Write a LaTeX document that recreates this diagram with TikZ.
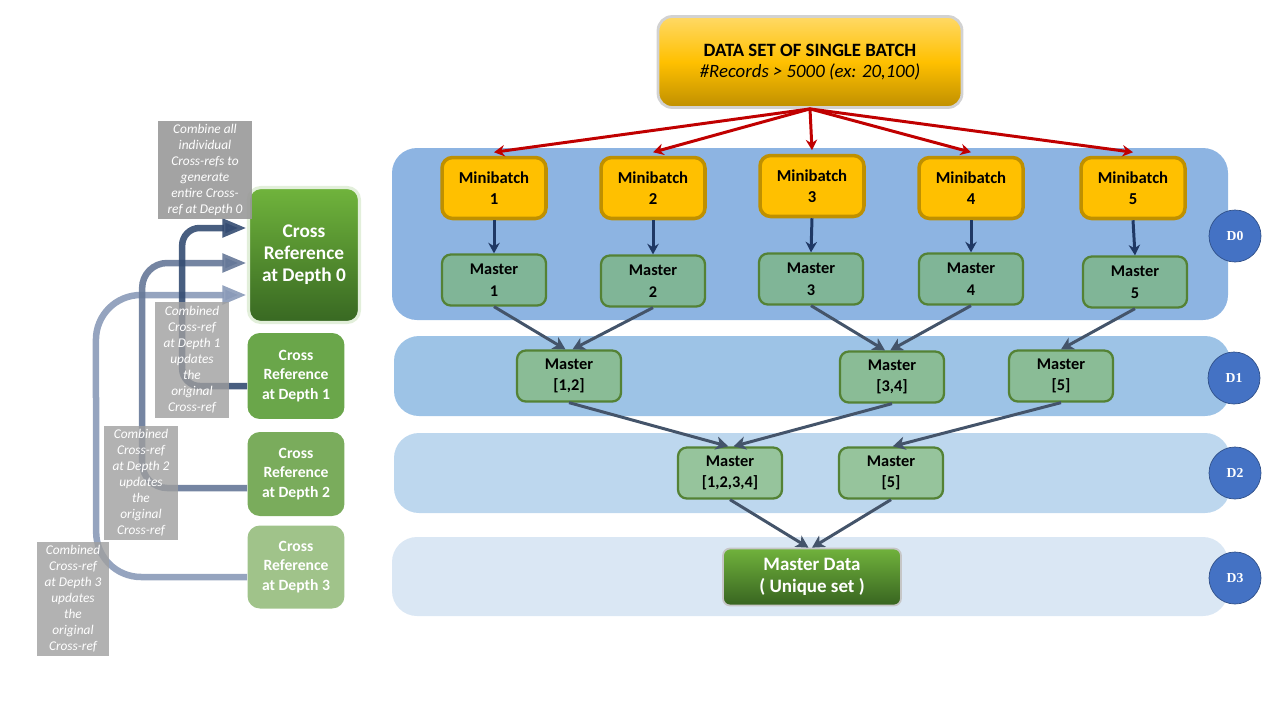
\documentclass[tikz,border=0pt]{standalone}
\usepackage{fontspec}
\setmainfont{Carlito}
\newfontfamily\dfont{Liberation Serif}
\usetikzlibrary{arrows.meta, calc, positioning}
\definecolor{minifill}{RGB}{255,192,0}
\definecolor{minibd}{RGB}{191,144,0}
\definecolor{mastbd}{RGB}{84,130,53}
\definecolor{mast0}{RGB}{128,181,151}
\definecolor{mast1}{RGB}{138,188,150}
\definecolor{mast2}{RGB}{150,196,156}
\definecolor{band0}{RGB}{141,180,226}
\definecolor{band1}{RGB}{157,195,230}
\definecolor{band2}{RGB}{189,215,238}
\definecolor{band3}{RGB}{218,231,244}
\definecolor{xref1}{RGB}{106,166,74}
\definecolor{xref2}{RGB}{122,172,92}
\definecolor{xref3}{RGB}{160,195,138}
\definecolor{redline}{RGB}{192,0,0}
\definecolor{navyline}{RGB}{31,56,100}
\definecolor{slateline}{RGB}{68,84,106}
\definecolor{dcircle}{RGB}{68,114,196}
\definecolor{back1}{RGB}{52,76,114}
\definecolor{back2}{RGB}{102,120,152}
\definecolor{back3}{RGB}{138,154,184}
\tikzset{
  minibox/.style={draw=minibd, fill=minifill, line width=2pt, rounded corners=6pt,
    minimum width=2.08cm, minimum height=1.22cm, inner sep=0pt, align=center,
    font=\fontsize{9.5}{12}\selectfont\bfseries},
  mastbox/.style={draw=mastbd, line width=1.3pt, rounded corners=5pt,
    minimum width=2.08cm, minimum height=1.02cm, inner sep=0pt, align=center,
    font=\fontsize{9.3}{12.3}\selectfont\bfseries},
  xrefbox/.style={rounded corners=7pt, minimum width=1.94cm, minimum height=1.72cm,
    inner sep=0pt, align=center, text=white,
    font=\fontsize{8.9}{10.9}\selectfont\bfseries},
  notebox/.style={fill=gray!75, fill opacity=0.9, text opacity=1, text=white,
    inner sep=0pt, align=center, minimum width=1.5cm, minimum height=2.3cm,
    font=\fontsize{7.6}{9.1}\selectfont\itshape},
  dnode/.style={circle, draw=dcircle!70!black, fill=dcircle, minimum size=1.04cm,
    inner sep=0pt, text=white, font=\dfont\fontsize{7.8}{9}\selectfont\bfseries},
  band/.style={rounded corners=0.5cm},
  redarrow/.style={draw=redline, line width=1.7pt, -{Stealth[length=6pt,width=6.5pt]}},
  downarrow/.style={draw=navyline, line width=1.7pt, -{Stealth[length=6pt,width=6.5pt]}},
  mergearrow/.style={draw=slateline, line width=1.7pt, -{Stealth[length=7pt,width=7.5pt,inset=2pt]}},
  backarrow/.style={line width=3.7pt, line cap=butt, opacity=0.9, -{Triangle[length=14pt,width=10pt]}},
}

\begin{document}
\begin{tikzpicture}[x=0.02cm, y=-0.02cm]
\useasboundingbox (0,0) rectangle (1280,720);

% depth bands
\fill[band, band0] (392,148) rectangle (1228,320);
\fill[band, band1] (394,336) rectangle (1230,416);
\fill[band, band2] (394,433) rectangle (1230,513);
\fill[band, band3] (392,537) rectangle (1228,616);

% source data set
\node[draw=gray!35, line width=1.6pt, rounded corners=8pt, top color={rgb,255:red,255;green,217;blue,102},
  bottom color={rgb,255:red,191;green,143;blue,0}, middle color=minifill,
  minimum width=6.08cm, minimum height=1.82cm, align=center,
  font=\fontsize{10.7}{12.3}\selectfont\bfseries] (data) at (810,62)
  {DATA SET OF SINGLE BATCH\\{\mdseries\itshape \#Records > 5000 (ex: 20,100)}};

% minibatches
\node[minibox] (mb1) at (494,188) {Minibatch\\1};
\node[minibox] (mb2) at (653,188) {Minibatch\\2};
\node[minibox] (mb3) at (812,186) {Minibatch\\3};
\node[minibox] (mb4) at (971,188) {Minibatch\\4};
\node[minibox] (mb5) at (1133,188) {Minibatch\\5};

% masters at depth 0
\node[mastbox, fill=mast0] (m1) at (494,280) {Master\\1};
\node[mastbox, fill=mast0] (m2) at (653,281) {Master\\2};
\node[mastbox, fill=mast0] (m3) at (811,279) {Master\\3};
\node[mastbox, fill=mast0] (m4) at (971,279) {Master\\4};
\node[mastbox, fill=mast0] (m5) at (1135,282) {Master\\5};

% depth 1
\node[mastbox, fill=mast1] (m12) at (569,376) {Master\\{[1,2]}};
\node[mastbox, fill=mast1] (m34) at (892,377) {Master\\{[3,4]}};
\node[mastbox, fill=mast1] (m5b) at (1061,376) {Master\\{[5]}};

% depth 2
\node[mastbox, fill=mast2] (m1234) at (730,473) {Master\\{[1,2,3,4]}};
\node[mastbox, fill=mast2] (m5c) at (891,473) {Master\\{[5]}};

% depth 3
\node[draw=gray!45, line width=1pt, rounded corners=4pt, top color={rgb,255:red,112;green,178;blue,60},
  bottom color={rgb,255:red,56;green,100;blue,32}, minimum width=3.56cm, minimum height=1.14cm,
  align=center, text=white, font=\fontsize{10.8}{12.5}\selectfont\bfseries] (mdata) at (812,577)
  {Master Data\\( Unique set )};

% depth labels
\node[dnode] (d0) at (1235,236) {D0};
\node[dnode] (d1) at (1234,378) {D1};
\node[dnode] (d2) at (1235,473) {D2};
\node[dnode] (d3) at (1235,578) {D3};

% cross references
\node[xrefbox, draw={rgb,255:red,226;green,239;blue,218}, line width=1.8pt,
  top color={rgb,255:red,112;green,180;blue,60}, bottom color={rgb,255:red,56;green,104;blue,34},
  minimum width=2.22cm, minimum height=2.7cm, font=\fontsize{11}{12.5}\selectfont\bfseries]
  (x0) at (304,255) {Cross\\Reference\\at Depth 0};
\node[xrefbox, fill=xref1] (x1) at (296,376) {Cross\\Reference\\at Depth 1};
\node[xrefbox, fill=xref2, minimum height=1.68cm] (x2) at (296,474) {Cross\\Reference\\at Depth 2};
\node[xrefbox, fill=xref3, minimum height=1.66cm] (x3) at (296,567) {Cross\\Reference\\at Depth 3};

% feedback arrows (depth 3 one with wide bends)
\draw[backarrow, back3]
  ($(x3.west)+(0,10)$) -- ($(x3.west)+(-106,10)$)
  .. controls ($(x3.west)+(-131,10)$) and ($(x3.west)+(-151,-10)$) .. ($(x3.west)+(-151,-35)$)
  -- ($(x0.west)+(-151,85)$)
  .. controls ($(x0.west)+(-151,60)$) and ($(x0.west)+(-131,40)$) .. ($(x0.west)+(-106,40)$)
  -- ($(x0.west)+(0,40)$);
\draw[backarrow, back2, rounded corners=0.5cm]
  ($(x2.west)+(0,14)$) -- ++(-105,0) |- ($(x0.west)+(0,8)$);
\draw[backarrow, back1, rounded corners=0.35cm]
  ($(x1.west)+(0,10)$) -- ++(-65,0) |- ($(x0.west)+(0,-27)$);

% notes
\node[notebox, fill=gray!80, minimum width=1.9cm, minimum height=1.98cm] (n0) at (205,170)
  {Combine all\\individual\\Cross-refs to\\generate\\entire Cross-\\ref at Depth 0};
\node[notebox, fill opacity=0.8, minimum height=2.32cm] (n1) at (192,360)
  {Combined\\Cross-ref\\at Depth 1\\updates\\the\\original\\Cross-ref};
\node[notebox, fill opacity=0.8, minimum width=1.48cm, minimum height=2.28cm] (n2) at (141,483)
  {Combined\\Cross-ref\\at Depth 2\\updates\\the\\original\\Cross-ref};
\node[notebox, fill opacity=0.8, minimum width=1.46cm, minimum height=2.28cm] (n3) at (73,599)
  {Combined\\Cross-ref\\at Depth 3\\updates\\the\\original\\Cross-ref};

% split into minibatches
\foreach \i in {1,...,5} {
  \draw[redarrow] (data.south) -- ([yshift=2pt]mb\i.north);
  \draw[downarrow] (mb\i.south) -- (m\i.north);
}

% merging
\draw[mergearrow] (m1.south) -- ([xshift=-2pt]m12.north);
\draw[mergearrow] (m2.south) -- ([xshift=2pt]m12.north);
\draw[mergearrow] (m3.south) -- ([xshift=-4pt]m34.north);
\draw[mergearrow] (m4.south) -- ([xshift=-1pt]m34.north);
\draw[mergearrow] (m5.south) -- (m5b.north);
\draw[mergearrow] (m12.south) -- ([xshift=-1pt]m1234.north);
\draw[mergearrow] (m34.south) -- ([xshift=2pt]m1234.north);
\draw[mergearrow] (m5b.south) -- ([xshift=1pt]m5c.north);
\draw[mergearrow] (m1234.south) -- ([xshift=-2pt]mdata.north);
\draw[mergearrow] (m5c.south) -- (mdata.north);
\end{tikzpicture}
\end{document}
